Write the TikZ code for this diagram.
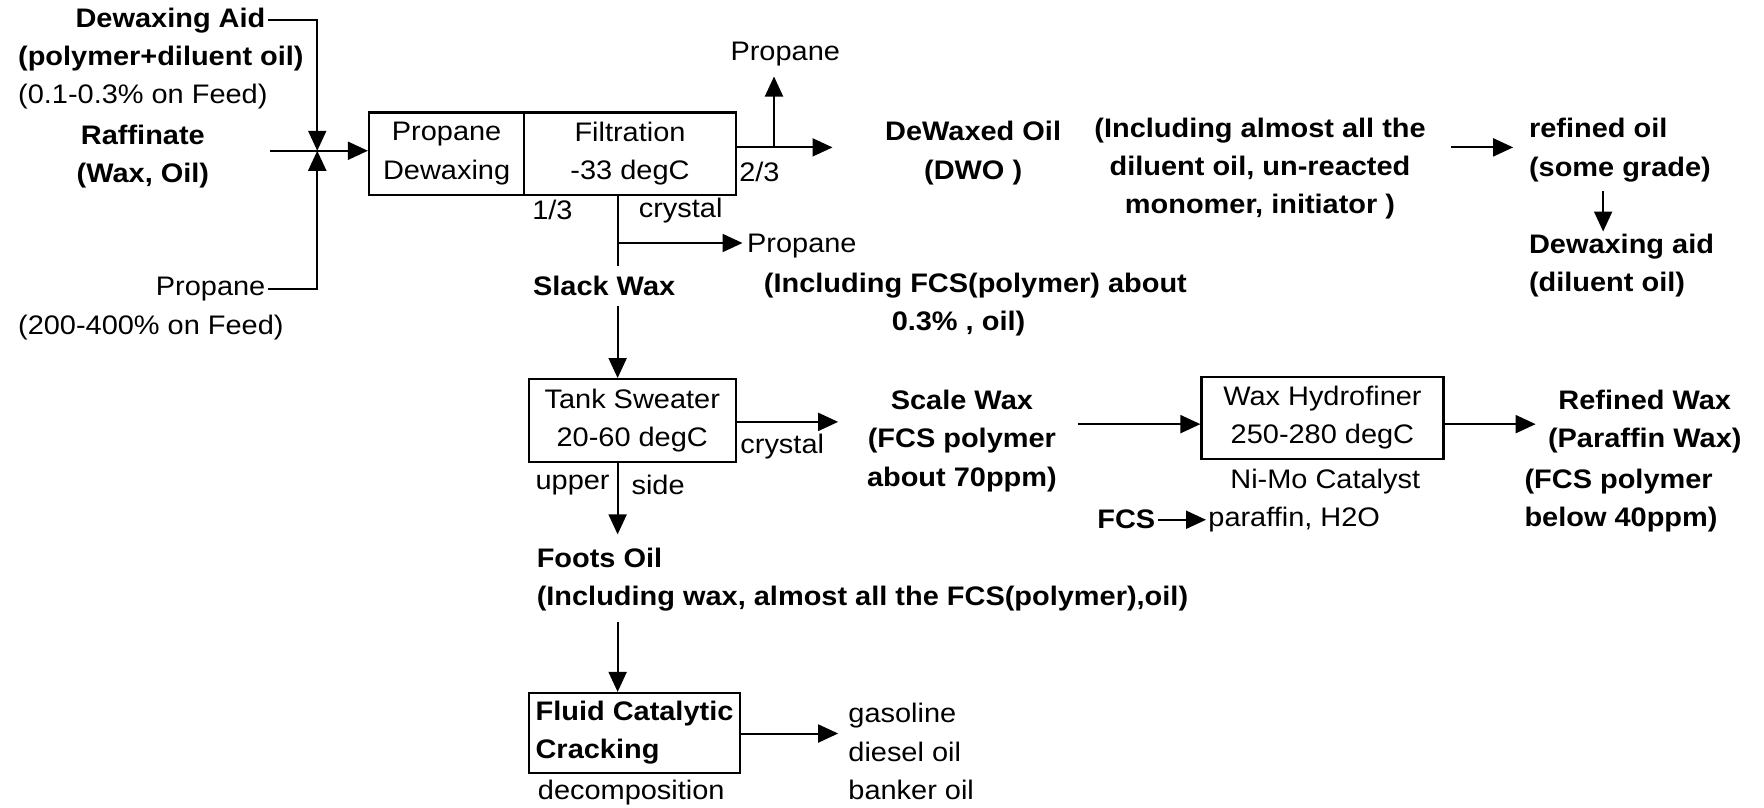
\documentclass[tikz,border=0pt]{standalone}
\usepackage{fontspec}
\setmainfont{Liberation Sans}[FakeStretch=1.08]
\usetikzlibrary{arrows.meta}
\newdimen\upx \upx=0.5625pt
\begin{document}
\begin{tikzpicture}[x=0.5625pt,y=-0.5625pt,
  every node/.style={inner sep=1pt, font=\fontsize{13.4}{19.1}\selectfont},
  bf/.style={font=\fontsize{13.4}{19.1}\selectfont\bfseries},
  box/.style={draw, line width=1.1pt, inner sep=0pt, align=center},
  arr/.style={line width=1pt, -{Triangle[length=10pt,width=9pt]}},
  ln/.style={line width=1pt}]
\useasboundingbox (0,0) rectangle (1568,718);

% ---------- feed side ----------
\node[bf, anchor=east] (aidA) at (238,18) {Dewaxing Aid};
\node[bf, anchor=west] (aidB) at (14,52) {(polymer+diluent oil)};
\node[anchor=west] (aidC) at (14,86) {(0.1-0.3\% on Feed)};
\node[bf, align=center] (raff) at (127,139) {Raffinate\\(Wax, Oil)};
\node[anchor=east] (propin) at (238,257) {Propane};
\node[anchor=west] (propinB) at (14,291) {(200-400\% on Feed)};
\coordinate (mix) at (282,134);
\coordinate (rin) at (240,134);

\node[box, minimum width=138*\upx, minimum height=73*\upx] (pd) at (397,136.5) {Propane\\Dewaxing};
\node[box, minimum width=188*\upx, minimum height=73*\upx] (filt) at (560,136.5) {Filtration\\-33 degC};

\draw[arr] (aidA.east) -| (mix);
\draw[arr] (propin.east) -| (mix);
\draw[arr] (rin) -- (rin -| pd.west);

% ---------- filtration outputs ----------
\coordinate (dwoIn) at (740,131);
\coordinate (pup) at (688,68);
\draw[arr] (dwoIn -| filt.east) -- (dwoIn);
\draw[arr] (pup |- dwoIn) -- (pup);
\node (ptop) at (698,48) {Propane};
\node (r23) at (675,153) {2/3};
\node[bf, align=center] (dwo) at (865,136) {DeWaxed Oil\\(DWO )};
\node[bf, align=center] (incl) at (1120,150) {(Including almost all the\\diluent oil, un-reacted\\monomer, initiator )};
\coordinate (ra0) at (1290,131);
\coordinate (ra1) at (1345,131);
\draw[arr] (ra0) -- (ra1);
\node[bf, align=left, anchor=west] (refoil) at (1357,133.5) {refined oil\\(some grade)};
\node[bf, align=left, anchor=west] (dwaid) at (1357,236) {Dewaxing aid\\(diluent oil)};
\coordinate (rd0) at (1425,170);
\draw[arr] (rd0) -- (dwaid.north -| rd0);

% ---------- slack wax branch ----------
\coordinate (sx) at (549,0);
\node (r13) at (491,187) {1/3};
\node (cry1) at (605,187) {crystal};
\node[bf] (slack) at (537,254) {Slack Wax};
\coordinate (s1) at (549,236);
\coordinate (s2) at (549,272);
\draw[ln] (filt.south -| sx) -- (s1);
\coordinate (pb) at (549,216);
\coordinate (pbt) at (660,216);
\draw[arr] (pb) -- (pbt);
\node[anchor=west] (pside) at (662,219) {Propane};
\node[bf] (fcsA) at (867,254) {(Including FCS(polymer) about};
\node[bf] (fcsB) at (852,288) {0.3\% , oil)};

\node[box, minimum width=184*\upx, minimum height=74*\upx] (tank) at (562,374) {Tank Sweater\\20-60 degC};
\draw[arr] (s2) -- (tank.north -| sx);
\coordinate (cx) at (745,375);
\draw[arr] (cx -| tank.east) -- (cx);
\node[anchor=west] (cry2) at (656,397) {crystal};
\node (upper) at (509,431) {upper};
\node (side) at (585,431) {side};

\node[bf, align=center] (scale) at (855,392) {Scale Wax\\(FCS polymer\\about 70ppm)};
\node[box, minimum width=215*\upx, minimum height=73*\upx] (wh) at (1175.5,371.5) {Wax Hydrofiner\\250-280 degC};
\coordinate (sw) at (958,377);
\draw[arr] (sw) -- (sw -| wh.west);
\node (nimo) at (1178,428) {Ni-Mo Catalyst};
\node[bf, anchor=east] (fcs) at (1029,462) {FCS};
\node[anchor=west] (paraf) at (1072,462) {paraffin, H2O};
\draw[arr] (fcs.east) -- (fcs.east -| paraf.west);
\coordinate (rwin) at (1365,377);
\draw[arr] (wh.east |- rwin) -- (rwin);
\node[bf, align=center] (rw1) at (1462,374.5) {Refined Wax\\(Paraffin Wax)};
\node[bf, align=left, anchor=west] (rw2) at (1353,445) {(FCS polymer\\below 40ppm)};

% ---------- foots oil branch ----------
\coordinate (f0) at (549,475);
\draw[arr] (tank.south -| sx) -- (f0);
\node[bf, align=left, anchor=west] (foots) at (475,515.5) {Foots Oil\\(Including wax, almost all the FCS(polymer),oil)};
\coordinate (f1) at (549,553);
\node[box, bf, align=left, minimum width=188*\upx, minimum height=71*\upx] (fcc) at (564,651.5) {Fluid Catalytic\\Cracking};
\draw[arr] (f1) -- (fcc.north -| sx);
\node[anchor=west] (decomp) at (476,704.5) {decomposition};
\coordinate (go) at (745,652);
\draw[arr] (fcc.east |- go) -- (go);
\node[align=left, anchor=west] (prod) at (752,668) {gasoline\\diesel oil\\banker oil};
\end{tikzpicture}
\end{document}
